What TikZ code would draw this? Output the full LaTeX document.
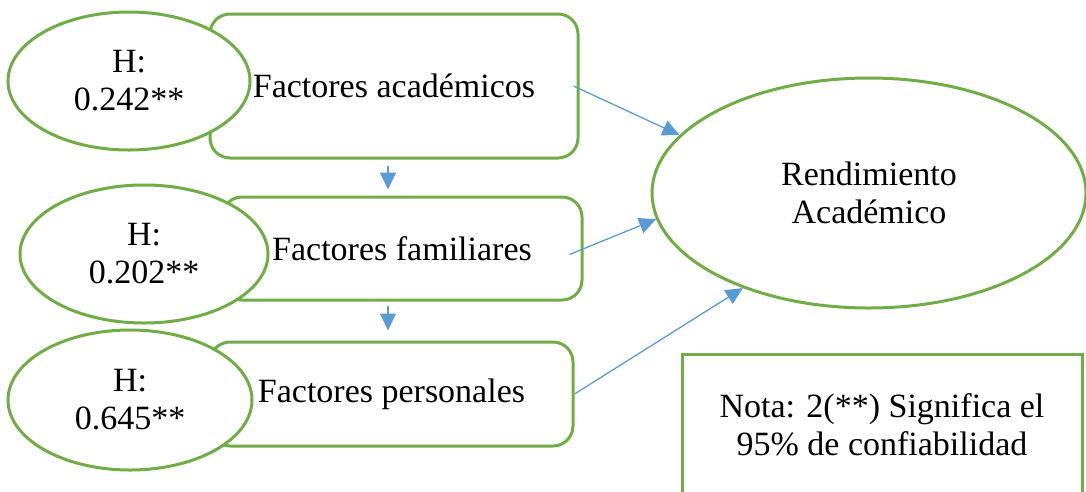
\documentclass[tikz,border=0pt]{standalone}
\usepackage{fontspec}
\setmainfont{Liberation Serif}
\usetikzlibrary{shapes.geometric,arrows.meta}
\definecolor{officegreen}{RGB}{112,173,71}
\definecolor{officeblue}{RGB}{91,155,213}

\begin{document}
\begin{tikzpicture}[x=1pt, y=-1pt,
  factor/.style = {rectangle, rounded corners=20pt, draw=officegreen, line width=3pt},
  hyp/.style = {ellipse, draw=officegreen, fill=white, line width=3pt, inner sep=0pt, align=center},
  outcome/.style = {ellipse, draw=officegreen, line width=3pt, minimum width=434pt, minimum height=230pt, align=center},
  note/.style = {rectangle, draw=officegreen, line width=3pt, minimum width=400pt, minimum height=142pt, align=center},
  link/.style = {draw=officeblue, line width=1.3pt, -{Triangle[length=17pt,width=16pt]}},
  every node/.style = {font=\fontsize{34}{38}\selectfont},
  ]
  \useasboundingbox (0,0) rectangle (1086,491);

  \node[factor, minimum width=368pt, minimum height=144pt] (fa) at (394,86) {Factores académicos};
  \node[factor, minimum width=360pt, minimum height=103pt] (ff) at (402,248.5) {Factores familiares};
  \node[factor, minimum width=363pt, minimum height=104pt] (fp) at (391.5,394) {Factores personales};

  \node[hyp, minimum width=242pt, minimum height=138pt] (ha) at (129,81) {H:\\0.242**};
  \node[hyp, minimum width=248pt, minimum height=138pt] (hf) at (144,254) {H:\\0.202**};
  \node[hyp, minimum width=244pt, minimum height=140pt] (hp) at (130,400) {H:\\0.645**};

  \node[outcome] (re) at (869,193) {Rendimiento\\Académico};
  \node[note] (nota) at (882,425) {Nota: 2(**) Significa el\\95\% de confiabilidad};

  \draw[link] ([xshift=-6pt]fa.east) -- (re.163);
  \draw[link] ([xshift=-14pt,yshift=-6pt]ff.east) -- (re.187);
  \draw[link] (fp.east) -- (re.217);

  \draw[link, shorten <=6pt, shorten >=6pt] ([xshift=-6pt]fa.south) -- ([xshift=-6pt]fa.south |- ff.north);
  \draw[link, shorten <=4pt, shorten >=10pt] ([xshift=-14pt]ff.south) -- ([xshift=-14pt]ff.south |- fp.north);
\end{tikzpicture}
\end{document}
